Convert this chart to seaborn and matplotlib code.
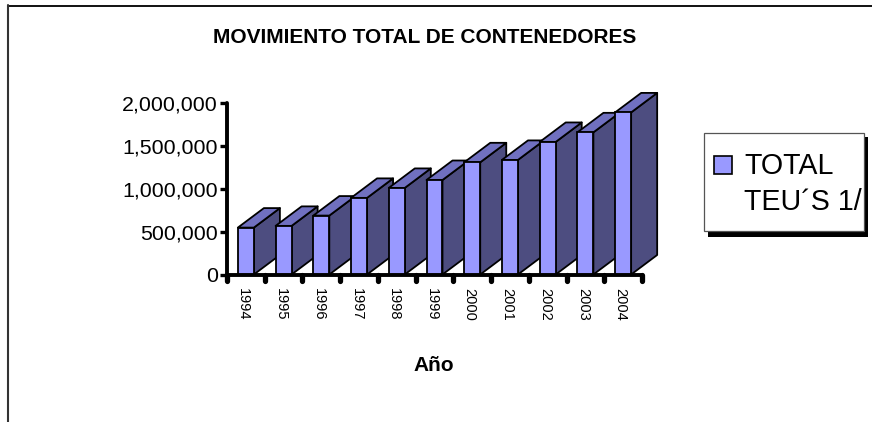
import matplotlib
matplotlib.use("Agg")
import matplotlib.pyplot as plt
import seaborn as sns
import pandas as pd
from matplotlib.patches import Polygon, Rectangle
from matplotlib.lines import Line2D
from matplotlib.markers import MarkerStyle, TICKDOWN
from matplotlib.ticker import FuncFormatter, FixedLocator
from matplotlib.transforms import Affine2D

years = ["1994", "1995", "1996", "1997", "1998", "1999", "2000", "2001", "2002", "2003", "2004"]
teus = [546000, 566000, 686000, 892000, 1008000, 1100000, 1306000, 1334000, 1543000, 1655000, 1887000]
y_ticks = [0, 500000, 1000000, 1500000, 2000000]

title_text = "MOVIMIENTO TOTAL DE CONTENEDORES"
xlabel_text = "Año"
legend_text = ["TOTAL", "TEU´S 1/"]

FRONT = "#9999FF"
TOP = "#7070C0"
SIDE = "#4D4D80"
W, H = 872, 422
BAR_W = 0.424
DX, DY = 0.69, 227000
EDGE = 1.3

sns.set_theme(style="white")
plt.rcParams["font.family"] = ["Liberation Sans", "DejaVu Sans"]

fig = plt.figure(figsize=(W / 100, H / 100), dpi=100, facecolor="white")
ax = fig.add_axes([227 / W, 1 - 274.5 / H, (642 - 227) / W, (274.5 - 102.7) / H])
px = Affine2D().scale(1 / W, -1 / H).translate(0, 1) + fig.transFigure

df = pd.DataFrame({"Año": years, "TEU": teus})
sns.barplot(data=df, x="Año", y="TEU", color=FRONT, saturation=1, width=BAR_W,
            edgecolor="black", linewidth=EDGE, ax=ax)
ax.set_xlim(-0.5, len(years) - 0.5)
ax.set_ylim(0, y_ticks[-1])

for i, (bar, v) in enumerate(zip(ax.patches, teus)):
    x0 = bar.get_x()
    x1 = x0 + bar.get_width()
    base = 3 + 3 * i
    side = Polygon([(x1, 0), (x1 + DX, DY), (x1 + DX, v + DY), (x1, v)], closed=True,
                   facecolor=SIDE, edgecolor="black", lw=EDGE, joinstyle="round",
                   clip_on=False, zorder=base)
    top = Polygon([(x0, v), (x0 + DX, v + DY), (x1 + DX, v + DY), (x1, v)], closed=True,
                  facecolor=TOP, edgecolor="black", lw=EDGE, joinstyle="round",
                  clip_on=False, zorder=base + 1)
    ax.add_patch(side)
    ax.add_patch(top)
    bar.set_zorder(base + 2)
    bar.set_clip_on(False)

for name in ("top", "right"):
    ax.spines[name].set_visible(False)
for name in ("left", "bottom"):
    ax.spines[name].set_linewidth(2.8)
    ax.spines[name].set_color("black")
    ax.spines[name].set_capstyle("round")
    ax.spines[name].set_zorder(100)

ax.set_yticks(y_ticks)
ax.yaxis.set_major_formatter(FuncFormatter(lambda v, _: f"{v:,.0f}"))
ax.tick_params(axis="y", which="major", left=True, length=5, width=2.4, pad=1.5,
               labelsize=15.4, labelcolor="black", color="black")

ax.set_xticks(range(len(years)))
ax.set_xticklabels(years, rotation=270, ha="center", va="top")
ax.xaxis.set_minor_locator(FixedLocator([i - 0.5 for i in range(len(years) + 1)]))
ax.tick_params(axis="x", which="major", bottom=False, pad=3.5, labelsize=10.5, labelcolor="black")
ax.tick_params(axis="x", which="minor", bottom=True, length=4.5, width=3.8, color="black")
for t in ax.xaxis.get_minor_ticks():
    t.tick1line.set_marker(MarkerStyle(TICKDOWN, capstyle="round"))
for lab in ax.get_xticklabels():
    lab.set_transform(lab.get_transform() + Affine2D().translate(-2.5, 0))

ax.set_xlabel(xlabel_text, fontweight="bold", fontsize=15, color="black", va="baseline")
ax.xaxis.set_label_coords(0.4976, (274.5 - 371) / (274.5 - 102.7))
ax.set_ylabel("")
fig.text(425 / W, 1 - 43 / H, title_text, fontweight="bold", fontsize=15, color="black",
         ha="center", va="baseline")

# chart frame
fig.add_artist(Line2D([8, W], [5.5, 5.5], transform=px, color="#111111", lw=1.4))
fig.add_artist(Line2D([8, 8], [5, H], transform=px, color="#333333", lw=1.5))

# legend
fig.add_artist(Rectangle((708, 137), 160, 100, transform=px, facecolor="black", edgecolor="none"))
fig.add_artist(Rectangle((704, 133), 160, 98, transform=px, facecolor="white", edgecolor="#555555", lw=0.9))
fig.add_artist(Rectangle((714, 155.5), 18, 18, transform=px, facecolor=FRONT, edgecolor="black", lw=1.2))
fig.text(744 / W, 1 - 174 / H, legend_text[0], fontsize=20.6, color="black", ha="left", va="baseline")
fig.text(744 / W, 1 - 210 / H, legend_text[1], fontsize=20.6, color="black", ha="left", va="baseline")

fig.savefig("out.png", dpi=100, facecolor="white")
